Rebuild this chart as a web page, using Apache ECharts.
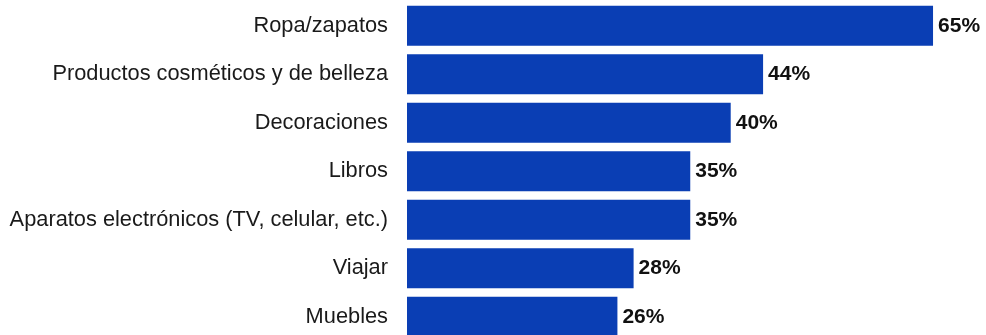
<!DOCTYPE html>
<html>
<head>
<meta charset="utf-8">
<script src="https://cdn.jsdelivr.net/npm/echarts@6/dist/echarts.min.js"></script>
<style>
  html, body { margin: 0; padding: 0; background: #ffffff; }
  #chart { width: 986px; height: 335px; }
</style>
</head>
<body>
<div id="chart"></div>
<script>
// Categories listed top to bottom
const categories = [
  'Ropa/zapatos',
  'Productos cosméticos y de belleza',
  'Decoraciones',
  'Libros',
  'Aparatos electrónicos (TV, celular, etc.)',
  'Viajar',
  'Muebles'
];
// Share of respondents, in percent
const values = [65, 44, 40, 35, 35, 28, 26];

const chart = echarts.init(document.getElementById('chart'), null, { renderer: 'canvas' });

chart.setOption({
  animation: false,
  backgroundColor: '#ffffff',
  // The last row runs off the bottom edge, so the grid may extend past the canvas
  grid: {
    left: 407, top: 1.5, width: 566.5, height: 339.5,
    containLabel: false,
    outerBoundsMode: 'none'
  },
  xAxis: {
    type: 'value',
    min: 0,
    max: 70,
    show: false
  },
  yAxis: {
    type: 'category',
    data: categories,
    inverse: true,
    axisLine: { show: false },
    axisTick: { show: false },
    splitLine: { show: false },
    axisLabel: {
      margin: 19,
      color: '#1a1a1a',
      fontFamily: 'Liberation Sans, Arial, sans-serif',
      fontSize: 21.8
    }
  },
  series: [{
    type: 'bar',
    data: values,
    barCategoryGap: '18%',
    itemStyle: { color: '#0a3eb4' },
    label: {
      show: true,
      position: 'right',
      distance: 5,
      formatter: p => p.value + '%',
      color: '#111111',
      fontFamily: 'Liberation Sans, Arial, sans-serif',
      fontWeight: 'bold',
      fontSize: 21
    }
  }]
});
</script>
</body>
</html>
